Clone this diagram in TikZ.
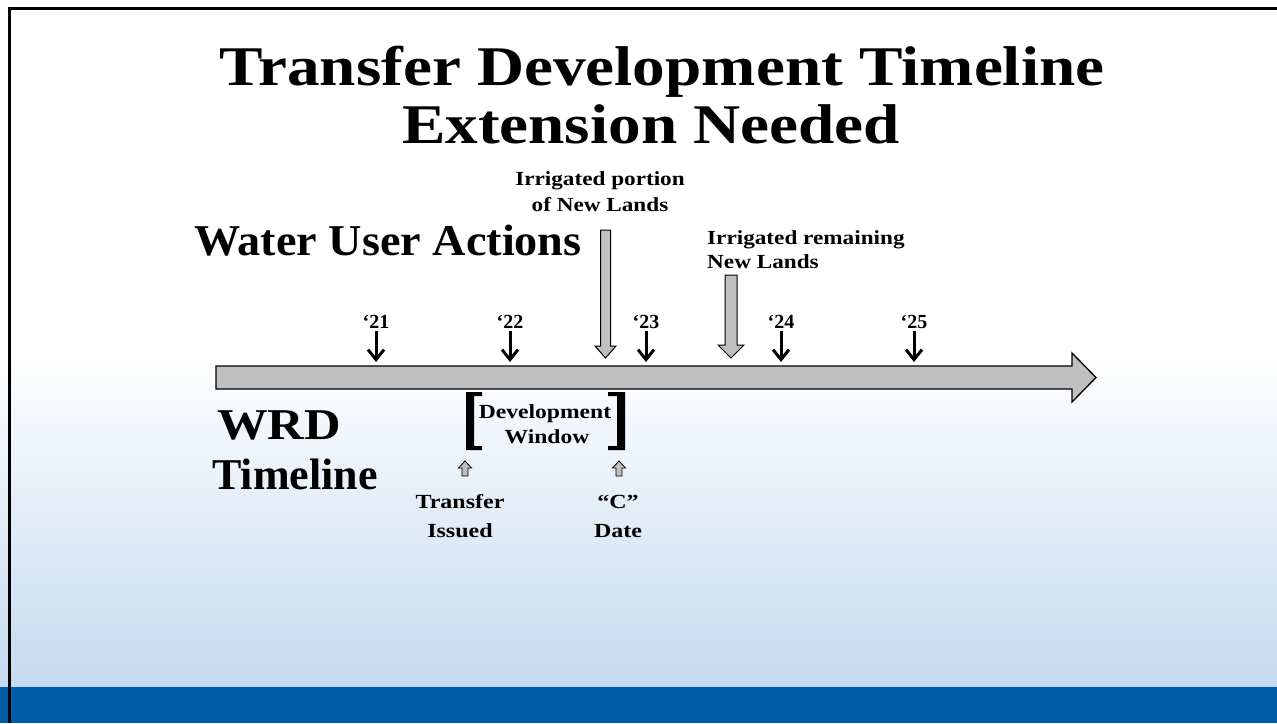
\documentclass[tikz,border=0pt]{standalone}
\usepackage{fontspec}
\setmainfont{Liberation Serif}
\usetikzlibrary{arrows.meta}
\definecolor{barblue}{RGB}{0,93,166}
\definecolor{paleblue}{RGB}{196,217,240}
\definecolor{arrowgray}{RGB}{191,191,191}
\newcommand{\wide}[2]{\scalebox{#1}[1]{#2}}
\begin{document}
\begin{tikzpicture}[x=1pt,y=-1pt,
  titletxt/.style={font=\bfseries\fontsize{56}{60}\selectfont, inner sep=0pt, anchor=base},
  bigtxt/.style={font=\bfseries\fontsize{44}{50}\selectfont, inner sep=0pt},
  smalltxt/.style={font=\bfseries\fontsize{20}{24}\selectfont, inner sep=0pt, anchor=base},
  yeartxt/.style={font=\bfseries\fontsize{20}{24}\selectfont, inner sep=0pt, anchor=base},
  tick/.style={line width=3pt, -{Straight Barb[length=10pt,width=16pt]}},
  blockarrow/.style={fill=arrowgray, draw=black, line width=1pt, line join=miter},
  bracketshape/.style={fill=black}
]
\useasboundingbox (0,0) rectangle (1277,723);
% background
\fill[white] (0,0) rectangle (1277,723);
\shade[top color=white, bottom color=paleblue] (0,355) rectangle (1277,687.5);
\fill[barblue] (0,687) rectangle (1277,723);
\draw[line width=2.7pt] (9.7,723) -- (9.7,8.7) -- (1277,8.7);

% title
\node[titletxt] (title1) at (662,85) {\wide{1.164}{Transfer Development Timeline}};
\node[titletxt] (title2) at (651,143) {\wide{1.164}{Extension Needed}};

% side headings
\node[bigtxt, anchor=base west] (wua) at (194,255) {\wide{1.05}{Water User Actions}};
\node[bigtxt, anchor=base] (wrd) at (279,439) {\wide{1.15}{WRD}};
\node[bigtxt, anchor=base] (tl) at (295,489) {Timeline};

% main timeline arrow
\draw[blockarrow, line width=1.3pt] (216,366) -- (1072,366) -- (1072,353) -- (1096,377.5)
  -- (1072,402) -- (1072,389) -- (216,389) -- cycle;

% years
\foreach \yx/\yl/\yn in {376/21/y21, 510/22/y22, 646/23/y23, 781/24/y24, 914/25/y25}{
  \node[yeartxt] (\yn) at (\yx,328) {‘\yl};
  \coordinate (\yn tip) at (\yx,362);
  \draw[tick] (\yx,331) -- (\yn tip);
}

% water user actions
\node[smalltxt] (ip1) at (600,185) {\wide{1.16}{Irrigated portion}};
\node[smalltxt] (ip2) at (600,211) {\wide{1.16}{of New Lands}};
\draw[blockarrow] (600.5,230) -- (610.5,230) -- (610.5,346) -- (616,346) -- (605.5,358)
  -- (595,346) -- (600.5,346) -- cycle;

\node[smalltxt, anchor=base west] (ir1) at (707,244) {\wide{1.16}{Irrigated remaining}};
\node[smalltxt, anchor=base west] (ir2) at (707,268) {\wide{1.16}{New Lands}};
\draw[blockarrow] (725,275) -- (737,275) -- (737,345) -- (744,345) -- (731,358)
  -- (718,345) -- (725,345) -- cycle;

% development window
\fill[bracketshape] (466,392) -- (482,392) -- (482,396) -- (474,396) -- (474,446)
  -- (482,446) -- (482,450) -- (466,450) -- cycle;
\fill[bracketshape] (625,392) -- (608,392) -- (608,396) -- (617,396) -- (617,446)
  -- (608,446) -- (608,450) -- (625,450) -- cycle;
\node[smalltxt] (dw1) at (545,418) {\wide{1.18}{Development}};
\node[smalltxt] (dw2) at (547,443) {\wide{1.18}{Window}};

% WRD markers
\draw[blockarrow, line width=0.8pt] (465,461) -- (471.5,468) -- (468,468) -- (468,476)
  -- (462,476) -- (462,468) -- (458.5,468) -- cycle;
\draw[blockarrow, line width=0.8pt] (619,461) -- (625.5,468) -- (622,468) -- (622,476)
  -- (616,476) -- (616,468) -- (612.5,468) -- cycle;
\node[smalltxt] (ti1) at (460,508) {\wide{1.2}{Transfer}};
\node[smalltxt] (ti2) at (460,537) {\wide{1.2}{Issued}};
\node[smalltxt] (cd1) at (618,508) {\wide{1.2}{“C”}};
\node[smalltxt] (cd2) at (618,537) {\wide{1.2}{Date}};
\end{tikzpicture}
\end{document}
